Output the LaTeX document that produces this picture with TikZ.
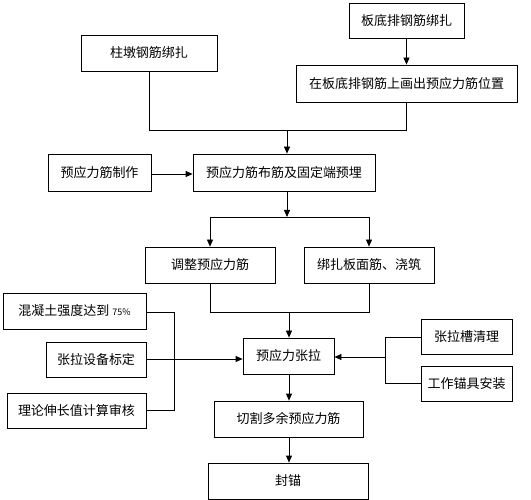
\documentclass[tikz,border=0pt]{standalone}
\usepackage{fontspec}
\setmainfont{Noto Sans CJK SC}
\usetikzlibrary{arrows.meta}
\begin{document}
\begin{tikzpicture}[x=1pt,y=-1pt,line width=0.8pt,
    box/.style={draw,inner sep=0pt,font=\fontsize{13}{15}\selectfont},
    arr/.style={-{Triangle[length=7pt,width=6pt]}}]
  \useasboundingbox (0,0) rectangle (531,500);
  \draw
    (149,53) node[box,minimum width=136,minimum height=36] (zdgj){柱墩钢筋绑扎}
    (406.5,20.5) node[box,minimum width=115,minimum height=35] (bdgj){板底排钢筋绑扎}
    (406.5,83.5) node[box,minimum width=221,minimum height=37] (hcwz){在板底排钢筋上画出预应力筋位置}
    (99.5,172.5) node[box,minimum width=103,minimum height=37] (zz){预应力筋制作}
    (284,172.5) node[box,minimum width=182,minimum height=37] (bj){预应力筋布筋及固定端预埋}
    (210,265) node[box,minimum width=130,minimum height=36] (tz){调整预应力筋}
    (369,265) node[box,minimum width=130,minimum height=36] (bz){绑扎板面筋、浇筑}
    (74.5,311) node[box,minimum width=143,minimum height=36] (hnt){混凝土强度达到 {\small 75\%}}
    (96,359.5) node[box,minimum width=100,minimum height=35] (sb){张拉设备标定}
    (76.5,410.5) node[box,minimum width=139,minimum height=35] (ll){理论伸长值计算审核}
    (288.5,356) node[box,minimum width=91,minimum height=36] (zl){预应力张拉}
    (466.5,336.5) node[box,minimum width=91,minimum height=35] (qc){张拉槽清理}
    (466.5,383.5) node[box,minimum width=91,minimum height=35] (mj){工作锚具安装}
    (288.5,419) node[box,minimum width=149,minimum height=36] (qg){切割多余预应力筋}
    (288,481) node[box,minimum width=160,minimum height=36] (fm){封锚};
  \coordinate (j1) at (287,130);
  \coordinate (j2) at (287,217);
  \coordinate (j3) at (289,312);
  \coordinate (j4) at (174,359);
  \coordinate (j5) at (385,357);
  \begin{scope}[arr]
    \draw (bdgj) to (hcwz);
    \draw (j1) to (j1 |- bj.north);
    \draw (zz.east |- 0,174) to (bj.west |- 0,174);
    \draw (bj.south -| j2) to (j2);
    \draw (tz.north |- j2) to (tz.north);
    \draw (bz.north |- j2) to (bz.north);
    \draw (j3) to (j3 |- zl.north);
    \draw (sb.east |- j4) to (zl.west |- j4);
    \draw (j5) to (zl.east |- j5);
    \draw (zl.south -| j3) to (qg.north -| j3);
    \draw (qg.south -| j3) to (fm.north -| j3);
  \end{scope}
  \begin{scope}[-]
    \draw (zdgj.south) |- (j1);
    \draw (hcwz.south) |- (j1);
    \draw (tz.north |- j2) to (bz.north |- j2);
    \draw (tz.south) |- (j3);
    \draw (bz.south) |- (j3);
    \draw (hnt.east |- 0,312) -| (174,410) -- (ll.east |- 0,410);
    \draw (qc.west |- 0,337) -| (385,383) -- (mj.west |- 0,383);
  \end{scope}
\end{tikzpicture}
\end{document}
